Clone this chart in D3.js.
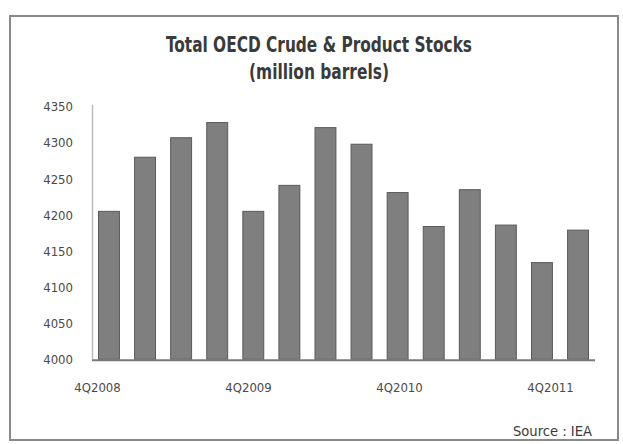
<!DOCTYPE html>
<html>
<head>
<meta charset="utf-8">
<script src="https://cdn.jsdelivr.net/npm/d3@7"></script>
<style>
  html, body { margin: 0; padding: 0; background: #fff; }
  svg { display: block; }
  .cond { font-family: "Liberation Sans Narrow", "DejaVu Sans Condensed", "Arial Narrow", sans-serif; font-stretch: condensed; }
</style>
</head>
<body>
<svg id="chart" width="623" height="444"></svg>
<script>
// Quarterly OECD stocks, million barrels
const quarters = [
  "4Q2008", "1Q2009", "2Q2009", "3Q2009",
  "4Q2009", "1Q2010", "2Q2010", "3Q2010",
  "4Q2010", "1Q2011", "2Q2011", "3Q2011",
  "4Q2011", "1Q2012"
];
const stocks = [4205, 4280, 4307, 4328, 4205, 4241, 4321, 4298, 4231, 4184, 4235, 4186, 4134, 4179];
const yTicks = [4000, 4050, 4100, 4150, 4200, 4250, 4300, 4350];
const xLabels = ["4Q2008", "4Q2009", "4Q2010", "4Q2011"];
const titleLines = ["Total OECD Crude & Product Stocks", "(million barrels)"];
const sourceText = "Source : IEA";

const svg = d3.select("#chart");

// outer frame
svg.append("rect")
  .attr("x", 10).attr("y", 16).attr("width", 608).attr("height", 424)
  .attr("fill", "#fff").attr("stroke", "#8a8a8a").attr("stroke-width", 2);

const plot = { left: 92, right: 595, top: 106.7, bottom: 359.3 };

const x = d3.scaleBand()
  .domain(quarters)
  .range([plot.left, plot.right])
  .paddingInner(0.42)
  .paddingOuter(0.18);

// category labels sit on their own evenly spread positions
const xLab = d3.scalePoint()
  .domain(quarters)
  .range([97, 97 + 13 * 37.75]);

const y = d3.scaleLinear()
  .domain([yTicks[0], yTicks[yTicks.length - 1]])
  .range([plot.bottom, plot.top]);

// title
const title = svg.append("g").attr("class", "cond")
  .attr("fill", "#3a3a3a").attr("font-weight", "bold").attr("text-anchor", "middle");
title.append("text").attr("x", 319).attr("y", 52).attr("font-size", 21)
  .attr("textLength", 306).attr("lengthAdjust", "spacingAndGlyphs")
  .text(titleLines[0]);
title.append("text").attr("x", 319).attr("y", 79).attr("font-size", 21)
  .attr("textLength", 140).attr("lengthAdjust", "spacingAndGlyphs")
  .text(titleLines[1]);

// y axis
const yAxis = svg.append("g")
  .attr("class", "cond")
  .attr("transform", `translate(${plot.left},0)`)
  .call(d3.axisLeft(y).tickValues(yTicks).tickSize(0).tickPadding(19).tickFormat(d3.format("d")));
yAxis.select(".domain").attr("stroke", "#bdbdbd").attr("stroke-width", 1.5)
  .attr("d", `M0.5,${plot.top - 2}V${plot.bottom}`);
yAxis.selectAll("text").attr("font-size", 13).attr("fill", "#4a4a4a")
  .attr("font-family", "'Liberation Sans Narrow', 'DejaVu Sans Condensed', sans-serif");

// bars
svg.append("g").selectAll("rect")
  .data(stocks)
  .join("rect")
  .attr("x", (d, i) => x(quarters[i]))
  .attr("y", d => y(d))
  .attr("width", x.bandwidth())
  .attr("height", d => y(yTicks[0]) - y(d))
  .attr("fill", "#7f7f80")
  .attr("stroke", "#5a5a5a")
  .attr("stroke-width", 1);

// x axis
const xAxis = svg.append("g")
  .attr("class", "cond")
  .attr("transform", `translate(0,${plot.bottom + 1})`)
  .call(d3.axisBottom(xLab).tickValues(xLabels).tickSize(0).tickPadding(22));
xAxis.select(".domain").attr("stroke", "#7a7a7a").attr("stroke-width", 2)
  .attr("d", `M${plot.left},0H${plot.right}`);
xAxis.selectAll("text").attr("font-size", 13).attr("fill", "#4a4a4a")
  .attr("font-family", "'Liberation Sans Narrow', 'DejaVu Sans Condensed', sans-serif");

// source note
svg.append("text").attr("class", "cond")
  .attr("x", 592).attr("y", 436)
  .attr("text-anchor", "end").attr("font-size", 14).attr("fill", "#3a3a3a")
  .attr("textLength", 79).attr("lengthAdjust", "spacingAndGlyphs")
  .text(sourceText);
</script>
</body>
</html>
